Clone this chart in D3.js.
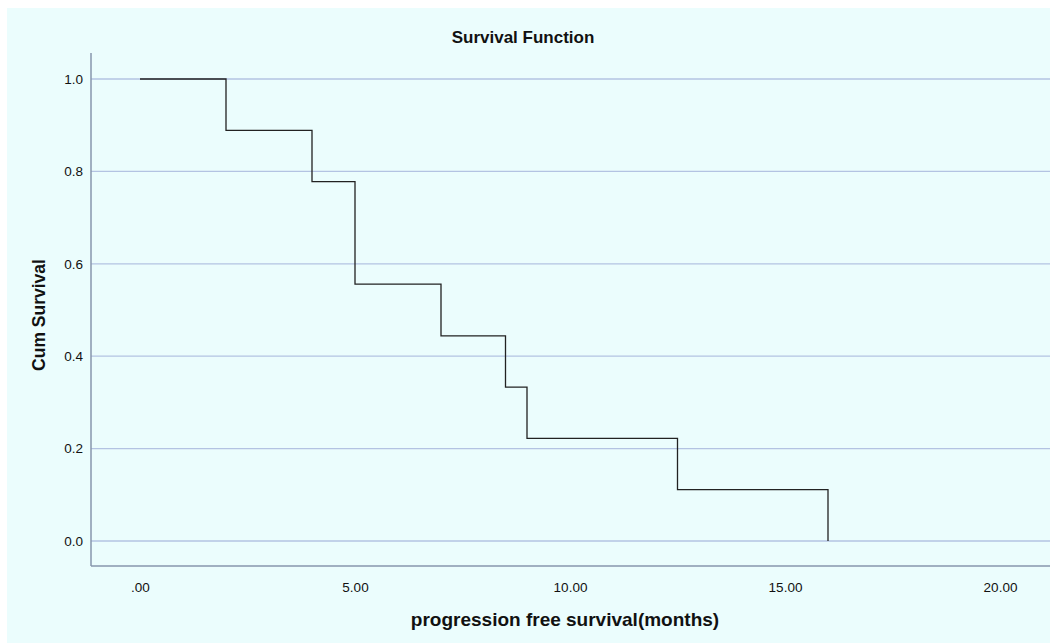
<!DOCTYPE html>
<html>
<head>
<meta charset="utf-8">
<script src="https://cdn.jsdelivr.net/npm/d3@7"></script>
<style>
body { margin: 0; background: #fff; }
text { font-family: "Liberation Sans", Arial, sans-serif; fill: #111; }
</style>
</head>
<body>
<div id="main"></div>
<script>
var outerWidth = 1050;
var outerHeight = 643;

// event times (months) and cumulative survival after each step
var times = [0, 2, 4, 5, 7, 8.5, 9, 12.5, 16];
var survival = [1.0, 0.889, 0.778, 0.556, 0.444, 0.333, 0.222, 0.111, 0.0];
var xTicks = [0, 5, 10, 15, 20];
var yTicks = [0, 0.2, 0.4, 0.6, 0.8, 1.0];

var svg = d3.select("#main")
    .append("svg")
    .attr("width", outerWidth)
    .attr("height", outerHeight);

svg.append("rect")
    .attr("x", 7).attr("y", 8)
    .attr("width", outerWidth - 7).attr("height", outerHeight - 8)
    .attr("fill", "#ebfdfd");

var xScale = d3.scaleLinear().domain([0, 20]).range([140, 1000]);
var yScale = d3.scaleLinear().domain([0, 1]).range([541, 79]);

var axisLeftX = 91;
var axisBottomY = 566;

// gridlines
svg.append("g").selectAll("line").data(yTicks).enter()
    .append("line")
    .attr("x1", axisLeftX).attr("x2", outerWidth)
    .attr("y1", d => yScale(d)).attr("y2", d => yScale(d))
    .attr("stroke", "#b3c3e2")
    .attr("stroke-width", 1.3);

// y axis
var yAxis = d3.axisLeft(yScale).tickValues(yTicks).tickSize(0).tickPadding(8)
    .tickFormat(d3.format(".1f"));
var yAxisG = svg.append("g")
    .attr("transform", "translate(" + axisLeftX + ",0)")
    .call(yAxis);
yAxisG.select(".domain").remove();
yAxisG.selectAll("text").style("font-size", "13.5px").attr("fill", "#111");
svg.append("line")
    .attr("x1", axisLeftX).attr("x2", axisLeftX)
    .attr("y1", 53).attr("y2", axisBottomY)
    .attr("stroke", "#8796ad").attr("stroke-width", 1.5);

// x axis
var xAxis = d3.axisBottom(xScale).tickValues(xTicks).tickSize(0).tickPadding(16)
    .tickFormat(d => d === 0 ? ".00" : d3.format(".2f")(d));
var xAxisG = svg.append("g")
    .attr("transform", "translate(0," + axisBottomY + ")")
    .call(xAxis);
xAxisG.select(".domain").remove();
xAxisG.selectAll("text").style("font-size", "13.5px").attr("fill", "#111");
svg.append("line")
    .attr("x1", axisLeftX).attr("x2", outerWidth)
    .attr("y1", axisBottomY).attr("y2", axisBottomY)
    .attr("stroke", "#8796ad").attr("stroke-width", 1.5);

// step line
var pts = [];
for (var i = 0; i < times.length; i++) {
    pts.push([times[i], survival[i]]);
}
var line = d3.line()
    .x(d => xScale(d[0]))
    .y(d => yScale(d[1]))
    .curve(d3.curveStepAfter);
svg.append("path")
    .attr("d", line(pts))
    .attr("fill", "none")
    .attr("stroke", "#222")
    .attr("stroke-width", 1.3);

// titles
svg.append("text")
    .attr("x", 523).attr("y", 43)
    .attr("text-anchor", "middle")
    .style("font-size", "17px").style("font-weight", "bold")
    .text("Survival Function");

svg.append("text")
    .attr("transform", "translate(45,315) rotate(-90)")
    .attr("text-anchor", "middle")
    .style("font-size", "17.5px").style("font-weight", "bold")
    .text("Cum Survival");

svg.append("text")
    .attr("x", 565).attr("y", 626)
    .attr("text-anchor", "middle")
    .style("font-size", "19px").style("font-weight", "bold")
    .text("progression free survival(months)");
</script>
</body>
</html>
